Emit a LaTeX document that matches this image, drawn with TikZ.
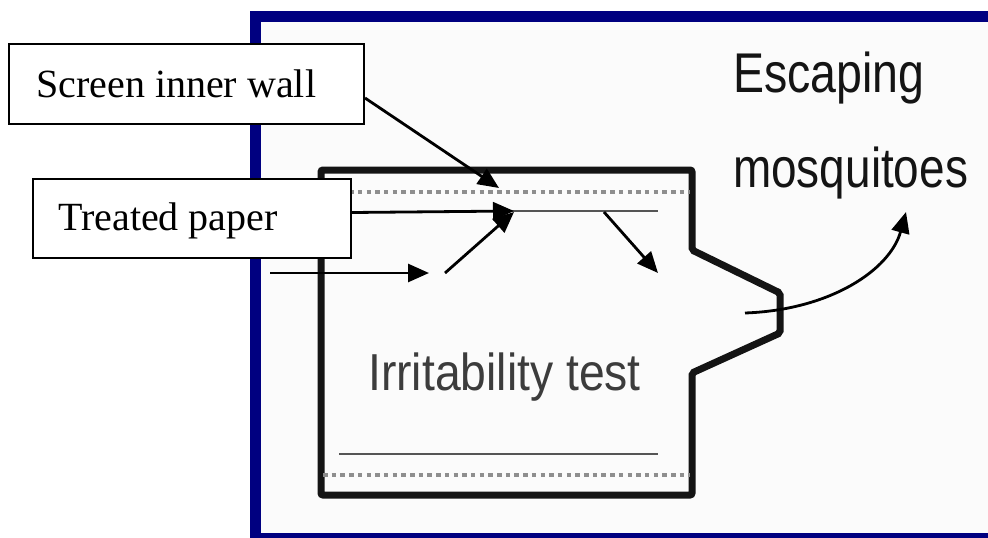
\documentclass[tikz,border=0pt]{standalone}
\usepackage{fontspec}
\setmainfont{Liberation Serif}
\newfontfamily\labelsans{Liberation Sans}
\usetikzlibrary{arrows.meta,calc}
\definecolor{framenavy}{HTML}{000080}
\definecolor{inside}{HTML}{FBFBFB}
\definecolor{dotgray}{HTML}{8E8E8E}
\definecolor{papergray}{HTML}{555555}
\definecolor{chamber}{HTML}{141414}
\definecolor{irrgray}{HTML}{3C3C3C}
\begin{document}
\begin{tikzpicture}[x=1pt,y=-1pt,
  labelbox/.style={draw=black,line width=2pt,fill=white,inner sep=0pt,anchor=north west},
  boxtext/.style={anchor=base west,inner sep=0pt,font=\fontsize{40}{44}\selectfont},
  sanstext/.style={anchor=base west,inner sep=0pt},
  flow/.style={line width=2.8pt,-{Triangle[length=21pt,width=18pt]}},
  wallline/.style={line width=7pt,draw=chamber,rounded corners=2pt},
  dotline/.style={line width=4pt,draw=dotgray,dash pattern=on 4.5pt off 4.2pt},
  paperline/.style={line width=2pt,draw=papergray}]
\useasboundingbox (0,0) rectangle (988,538);
% frame
\fill[framenavy] (250,11) rectangle (988,538);
\fill[inside] (261,22) rectangle (988,533);
% chamber
\draw[wallline] (321,170) -- (692,170) -- (692,250) -- (780,293) -- (780,333) -- (692,373) -- (692,495) -- (321,495) -- cycle;
\draw[dotline] (323,192) -- (690,192);
\draw[dotline] (323,475) -- (690,475);
\draw[paperline] (500,211) -- (658,211);
\draw[paperline] (339,454) -- (658,454);
% texts
\node[sanstext,text=irrgray] (irr) at (368,390) {\scalebox{0.89}[1]{\labelsans\fontsize{52}{56}\selectfont Irritability test}};
\node[sanstext,text=chamber] (esc) at (733,92) {\scalebox{0.83}[1]{\labelsans\fontsize{56}{60}\selectfont Escaping}};
\node[sanstext,text=chamber] (mosq) at (733,187) {\scalebox{0.82}[1]{\labelsans\fontsize{56}{60}\selectfont mosquitoes}};
% flow points
\coordinate (wtip) at (499,188);
\coordinate (ptip) at (514,211);
\coordinate (in0) at (270,273);
\coordinate (in1) at (429,273);
\coordinate (d0) at (445,273);
\coordinate (d1) at (514,212);
\coordinate (r0) at (604,212);
\coordinate (r1) at (658,273);
\coordinate (e0) at (745,313);
\coordinate (e1) at (906,212);
% arrows
\draw[flow] (in0) -- (in1);
\draw[flow] (d0) -- (d1);
\draw[flow] (r0) -- (r1);
\draw[flow] (e0) .. controls (830,310) and (890,270) .. (e1);
% boxes
\node[labelbox,minimum width=355pt,minimum height=80pt] (wall) at (8,43) {};
\node[boxtext] (walltext) at (36,97) {Screen inner wall};
\node[labelbox,minimum width=318pt,minimum height=79pt] (paper) at (32,178) {};
\node[boxtext] (papertext) at (58,230) {Treated paper};
\draw[flow] ($(wall.east)+(0,14)$) -- (wtip);
\draw[flow] ($(paper.east)+(0,-6)$) -- (ptip);
\end{tikzpicture}
\end{document}
